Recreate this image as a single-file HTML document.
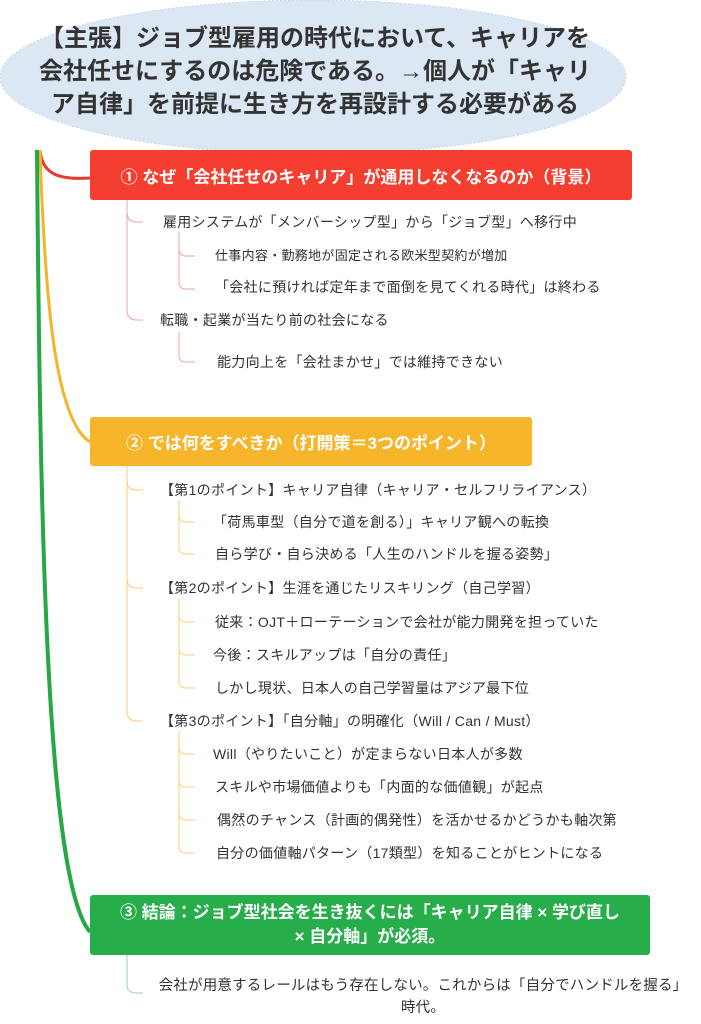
<!DOCTYPE html>
<html><head><meta charset="utf-8"><style>
body{margin:0;width:701px;height:1024px;background:#fff;position:relative;overflow:hidden;font-family:"Liberation Sans","Noto Sans CJK JP",sans-serif;}
.t{position:absolute;white-space:nowrap;color:#333;font-size:14px;line-height:18px;letter-spacing:0.3px;}
.s{font-size:13px;}
.box{position:absolute;color:#fff;font-weight:bold;font-size:17px;text-align:center;border-radius:3px;display:flex;align-items:center;justify-content:center;}
</style></head><body>
<svg width="701" height="1024" style="position:absolute;left:0;top:0">
<ellipse cx="313" cy="77" rx="313" ry="77" fill="#dce7f4" stroke="#c9d6e6" stroke-dasharray="2,2"/>
<path d="M40 150 C42 175,60 180,90 178" stroke="#e63b2e" stroke-width="3" fill="none"/>
<path d="M40 150 C45 300,55 420,90 442" stroke="#f4b42a" stroke-width="3" fill="none"/>
<path d="M37 150 C40 500,45 880,90 932" stroke="#27a745" stroke-width="4" fill="none"/>
<g fill="none" stroke-width="1">
<path d="M127 200 V310 Q127 320 137 320 H143 M127 212 Q127 222 137 222 H143" stroke="#e8a8a0"/>
<path d="M179 232 V282 Q179 289 186 289 H195 M179 248 Q179 256 186 256 H195" stroke="#e8a8a0"/>
<path d="M179 332 V355 Q179 362 186 362 H195" stroke="#e8a8a0"/>
<path d="M127 465 V712 Q127 721 137 721 H143 M127 481 Q127 490 137 490 H143 M127 579 Q127 588 137 588 H143" stroke="#f7cf7a"/>
<path d="M179 500 V547 Q179 554 186 554 H195 M179 515 Q179 522 186 522 H195" stroke="#f7cf7a"/>
<path d="M179 598 V681 Q179 688 186 688 H195 M179 615 Q179 622 186 622 H195 M179 648 Q179 655 186 655 H195" stroke="#f7cf7a"/>
<path d="M179 731 V846 Q179 853 186 853 H195 M179 747 Q179 754 186 754 H195 M179 780 Q179 787 186 787 H195 M179 813 Q179 820 186 820 H195" stroke="#f7cf7a"/>
<path d="M127 955 V985 Q127 993 137 993 H143" stroke="#9bd3a8"/>
</g>
</svg>
<div style="position:absolute;left:30px;top:22px;width:570px;text-align:center;font-size:24px;line-height:33px;color:#333;font-weight:bold;">【主張】ジョブ型雇用の時代において、キャリアを<br>会社任せにするのは危険である。→個人が「キャリ<br>ア自律」を前提に生き方を再設計する必要がある</div>
<div class="box" style="left:90px;top:150px;width:542px;height:50px;background:#f43e2f;">① なぜ「会社任せのキャリア」が通用しなくなるのか（背景）</div>
<div class="t" style="left:163px;top:213px">雇用システムが「メンバーシップ型」から「ジョブ型」へ移行中</div>
<div class="t s" style="left:215px;top:247px">仕事内容・勤務地が固定される欧米型契約が増加</div>
<div class="t" style="left:215px;top:278px">「会社に預ければ定年まで面倒を見てくれる時代」は終わる</div>
<div class="t" style="left:160px;top:311px">転職・起業が当たり前の社会になる</div>
<div class="t" style="left:217px;top:353px">能力向上を「会社まかせ」では維持できない</div>
<div class="box" style="left:90px;top:417px;width:442px;height:49px;background:#f6b52a;">② では何をすべきか（打開策＝3つのポイント）</div>
<div class="t" style="left:160px;top:481px">【第1のポイント】キャリア自律（キャリア・セルフリライアンス）</div>
<div class="t" style="left:213px;top:513px">「荷馬車型（自分で道を創る）」キャリア観への転換</div>
<div class="t" style="left:215px;top:545px">自ら学び・自ら決める「人生のハンドルを握る姿勢」</div>
<div class="t" style="left:160px;top:579px">【第2のポイント】生涯を通じたリスキリング（自己学習）</div>
<div class="t" style="left:215px;top:613px">従来：OJT＋ローテーションで会社が能力開発を担っていた</div>
<div class="t" style="left:213px;top:646px">今後：スキルアップは「自分の責任」</div>
<div class="t" style="left:215px;top:679px">しかし現状、日本人の自己学習量はアジア最下位</div>
<div class="t" style="left:160px;top:712px">【第3のポイント】「自分軸」の明確化（Will / Can / Must）</div>
<div class="t" style="left:213px;top:745px">Will（やりたいこと）が定まらない日本人が多数</div>
<div class="t" style="left:215px;top:778px">スキルや市場価値よりも「内面的な価値観」が起点</div>
<div class="t" style="left:217px;top:811px">偶然のチャンス（計画的偶発性）を活かせるかどうかも軸次第</div>
<div class="t" style="left:216px;top:844px">自分の価値軸パターン（17類型）を知ることがヒントになる</div>
<div class="box" style="left:90px;top:895px;width:560px;height:60px;background:#27ae4a;line-height:24px;">③ 結論：ジョブ型社会を生き抜くには「キャリア自律 × 学び直し<br>× 自分軸」が必須。</div>
<div class="t" style="left:145px;top:975px;width:556px;text-align:center;line-height:22px;font-size:14.5px;letter-spacing:0.2px;">会社が用意するレールはもう存在しない。これからは「自分でハンドルを握る」<br>時代。</div>
</body></html>
